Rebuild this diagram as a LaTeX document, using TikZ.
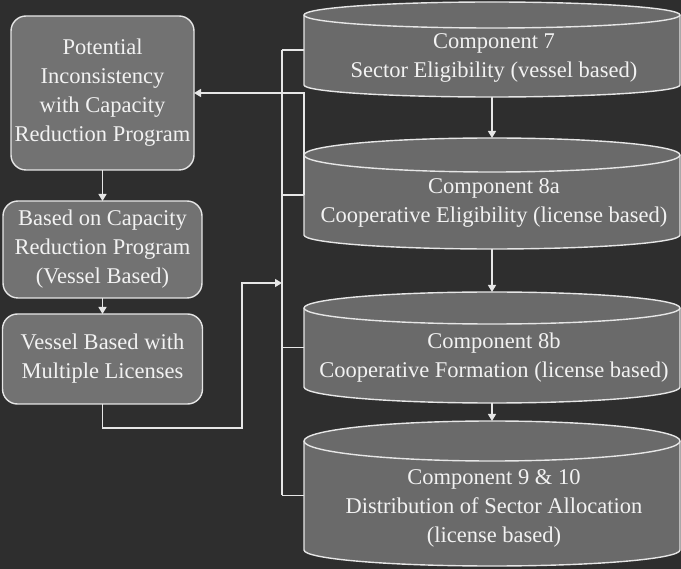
\documentclass[tikz,border=0pt]{standalone}
\usepackage{fontspec}
\setmainfont{Liberation Serif}
\usetikzlibrary{arrows.meta}

\definecolor{bgdark}{HTML}{2E2E2E}
\definecolor{boxgrey}{HTML}{727272}
\definecolor{drumgrey}{HTML}{6A6A6A}
\definecolor{inkwhite}{HTML}{F2F2F2}
\definecolor{wirewhite}{HTML}{E6E6E6}

% Drum (cylinder) outline around a body node: #1 node, #2 top radius, #3 bottom radius
\newcommand\drumdraw[3]{%
  \filldraw[drumfill] (#1.north west) -- (#1.south west)
    arc[start angle=180,end angle=360,x radius=188pt,y radius=#3]
    -- (#1.north east)
    arc[start angle=0,end angle=180,x radius=188pt,y radius=#2] -- cycle;
  \draw[drumedge] (#1.north west)
    arc[start angle=180,end angle=360,x radius=188pt,y radius=#2];
}

\tikzset{
  labeltext/.style={text=inkwhite, align=center, inner sep=0pt,
    font=\fontsize{22.5}{29}\selectfont},
  roundbox/.style={draw=wirewhite, line width=1.4pt, fill=boxgrey,
    rounded corners=15pt, inner sep=0pt, outer sep=0pt,
    text=inkwhite, align=center, font=\fontsize{22.5}{29}\selectfont},
  drumbody/.style={rectangle, minimum width=376pt, inner sep=0pt, outer sep=0pt},
  drumfill/.style={fill=drumgrey, draw=wirewhite, line width=1.4pt},
  drumedge/.style={draw=wirewhite, line width=1.4pt},
  wire/.style={draw=wirewhite, line width=1.4pt},
  arrowed/.style={wire, -{Triangle[width=8pt,length=7pt]}},
}

\begin{document}
\begin{tikzpicture}[x=1pt,y=1pt]
  % canvas
  \fill[bgdark] (0,0) rectangle (681,-569);
  \useasboundingbox (0,0) rectangle (681,-569);

  % drum bodies (named for the connectors)
  \node[drumbody, minimum height=70pt] (c7)  at (492,-50)    {};
  \node[drumbody, minimum height=80pt] (c8a) at (492,-195)   {};
  \node[drumbody, minimum height=79pt] (c8b) at (492,-347.5) {};
  \node[drumbody, minimum height=109pt] (c9) at (492,-495.5) {};

  \drumdraw{c7}{13pt}{12pt}
  \drumdraw{c8a}{17pt}{14pt}
  \drumdraw{c8b}{16pt}{16pt}
  \drumdraw{c9}{20pt}{16pt}

  % drum labels
  \node[labeltext] (c7t)  at (494,-57.5) {Component 7\\Sector Eligibility (vessel based)};
  \node[labeltext] (c8at) at (494,-202.5) {Component 8a\\Cooperative Eligibility (license based)};
  \node[labeltext] (c8bt) at (494,-357.5) {Component 8b\\Cooperative Formation (license based)};
  \node[labeltext] (c9t)  at (494,-508.5) {Component 9 \& 10\\Distribution of Sector Allocation\\(license based)};

  % left-hand boxes
  \node[roundbox, minimum width=183pt, minimum height=154pt] (b1) at (102.5,-93)
    {Potential\\Inconsistency\\with Capacity\\Reduction Program};
  \node[roundbox, minimum width=199pt, minimum height=97pt] (b2) at (102.5,-249.5)
    {Based on Capacity\\Reduction Program\\(Vessel Based)};
  \node[roundbox, minimum width=200pt, minimum height=90pt] (b3) at (102.5,-359)
    {Vessel Based with\\Multiple Licenses};

  % helper points of the feeder bus
  \coordinate (busx)  at (282,0);
  \coordinate (busin) at (282,-283);
  \coordinate (jog)   at (242,-428);

  % left chain
  \draw[arrowed] (b1.south) -- (b2.north);
  \draw[arrowed] (b2.south) -- (b3.north);
  \draw[arrowed] (b3.south) |- (jog) |- (busin);

  % feeder bus to every drum
  \draw[wire] (busx |- c7.west) -- (busx |- c9.west);
  \draw[wire] (busx |- c7.west)  -- (c7.west);
  \draw[wire] (busx |- c8a.west) -- (c8a.west);
  \draw[wire] (busx |- c8b.west) -- (c8b.west);
  \draw[wire] (busx |- c9.west)  -- (c9.west);

  % feedback to the first box
  \draw[arrowed] (c8a.west) -- (c8a.west |- b1.east) -- (b1.east);

  % drum sequence
  \draw[arrowed] ([yshift=-12pt]c7.south)  -- ([yshift=17pt]c8a.north);
  \draw[arrowed] ([yshift=-14pt]c8a.south) -- ([yshift=16pt]c8b.north);
  \draw[arrowed] ([yshift=-16pt]c8b.south) -- ([yshift=20pt]c9.north);
\end{tikzpicture}
\end{document}
